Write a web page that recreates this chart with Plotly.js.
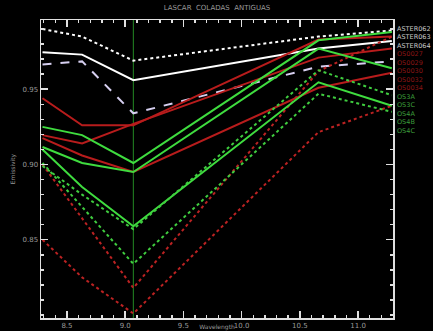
<!DOCTYPE html>
<html><head><meta charset="utf-8">
<script src="https://cdn.plot.ly/plotly-3.0.1.min.js"></script>
<style>html,body{margin:0;padding:0;background:#000;}#chart{width:433px;height:331px;}</style>
</head><body><div id="chart"></div>
<script>
// ASTER TIR band centres (micrometres)
const wavelengths = [8.29, 8.63, 9.07, 10.66, 11.29];

// series values (emissivity)
const aster062 = [0.990, 0.985, 0.969, 0.985, 0.989];
const aster063 = [0.9745, 0.973, 0.956, 0.977, 0.982];
const aster064 = [0.9665, 0.9685, 0.934, 0.965, 0.9685];
const red1 = [0.944, 0.926, 0.926, 0.983, 0.985];
const red2 = [0.9195, 0.914, 0.927, 0.971, 0.977];
const red3 = [0.9175, 0.906, 0.895, 0.951, 0.961];
const redDot1 = [0.900, 0.864, 0.818, 0.962, 0.985];
const redDot2 = [0.850, 0.825, 0.801, 0.9215, 0.939];
const green1 = [0.925, 0.9195, 0.901, 0.9825, 0.988];
const green2 = [0.9116, 0.901, 0.895, 0.977, 0.964];
const green3 = [0.910, 0.885, 0.859, 0.9546, 0.939];
const greenDot1 = [0.901, 0.872, 0.834, 0.947, 0.935];
const greenDot2 = [0.899, 0.880, 0.857, 0.9626, 0.946];

const markerBand = 9.07;
const yLimits = [0.798, 0.996];

const legendLabels = ["ASTER062","ASTER063","ASTER064","OS0027","OS0029","OS0030","OS0032","OS0034","OS3A","OS3C","OS4A","OS4B","OS4C"];

const series = [
  {y: aster062, c: '#ffffff', d: 'dot'},
  {y: aster063, c: '#ffffff', d: 'solid'},
  {y: aster064, c: '#d6cff0', d: 'dash'},
  {y: red1, c: '#b81c1c', d: 'solid'},
  {y: red2, c: '#b81c1c', d: 'solid'},
  {y: red3, c: '#b81c1c', d: 'solid'},
  {y: redDot1, c: '#bb2222', d: 'dot'},
  {y: redDot2, c: '#bb2222', d: 'dot'},
  {y: green1, c: '#3fdc3f', d: 'solid'},
  {y: green2, c: '#3fdc3f', d: 'solid'},
  {y: green3, c: '#3fdc3f', d: 'solid'},
  {y: greenDot1, c: '#3fcc3f', d: 'dot'},
  {y: greenDot2, c: '#3fcc3f', d: 'dot'}
];
const labelColors = ['#c8c8c8','#c8c8c8','#c8c8c8','#8a1515','#8a1515','#8a1515','#8a1515','#8a1515','#3a9a3a','#3a9a3a','#3a9a3a','#3a9a3a','#3a9a3a'];

const traces = [{
  x: [markerBand, markerBand], y: yLimits, mode: 'lines',
  line: {color: '#238a23', width: 1}, showlegend: false, hoverinfo: 'skip'
}];
series.forEach(s => traces.push({
  x: wavelengths, y: s.y, mode: 'lines',
  line: {color: s.c, width: 2, dash: s.d}, showlegend: false
}));

const annotations = legendLabels.map((t, i) => ({
  text: t, xref: 'paper', yref: 'paper', x: 1.005, xanchor: 'left',
  y: 0.97 - i * 0.0285, yanchor: 'middle', showarrow: false,
  font: {family: 'DejaVu Sans', size: 6.5, color: labelColors[i]}
}));

const axisCommon = {
  showgrid: false, zeroline: false, showline: true, linecolor: '#e0e0e0', linewidth: 1.5,
  mirror: 'allticks', ticks: 'inside', ticklen: 7, tickwidth: 1.5, tickcolor: '#e0e0e0',
  tickfont: {family: 'DejaVu Sans', size: 7, color: '#9a9a9a'}
};

const layout = {
  width: 433, height: 331,
  paper_bgcolor: '#000', plot_bgcolor: '#000',
  margin: {l: 41, r: 40, t: 20, b: 13},
  title: {text: 'LASCAR  COLADAS  ANTIGUAS', x: 0.5, xref: 'paper', y: 0.985, yanchor: 'top',
          font: {family: 'DejaVu Sans', size: 7, color: '#9a9a9a'}},
  xaxis: Object.assign({}, axisCommon, {
    range: [8.277, 11.30], tickmode: 'array', tickvals: [8.5, 9.0, 9.5, 10.0, 10.5, 11.0],
    ticktext: ['8.5','9.0','9.5','10.0','10.5','11.0'],
    minor: {dtick: 0.1, tick0: 8.0, ticks: 'inside', ticklen: 3, tickwidth: 1.5, tickcolor: '#e0e0e0'},
    title: {text: 'Wavelength', standoff: 0, font: {family: 'DejaVu Sans', size: 6, color: '#9a9a9a'}}
  }),
  yaxis: Object.assign({}, axisCommon, {
    range: yLimits, tickmode: 'array', tickvals: [0.85, 0.90, 0.95],
    ticktext: ['0.85','0.90','0.95'],
    minor: {dtick: 0.01, tick0: 0.8, ticks: 'inside', ticklen: 3, tickwidth: 1.5, tickcolor: '#e0e0e0'},
    title: {text: 'Emissivity', standoff: 6, font: {family: 'DejaVu Sans', size: 6, color: '#9a9a9a'}}
  }),
  annotations: annotations
};

Plotly.newPlot('chart', traces, layout, {staticPlot: true, displayModeBar: false});
</script></body></html>
